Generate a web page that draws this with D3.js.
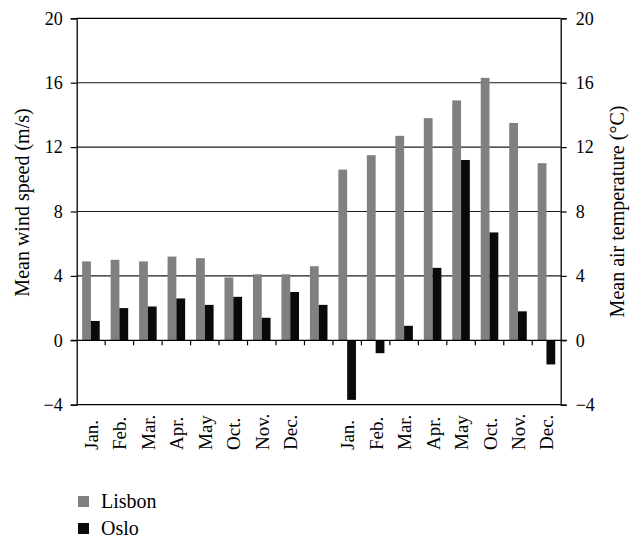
<!DOCTYPE html>
<html>
<head>
<meta charset="utf-8">
<script src="https://cdn.jsdelivr.net/npm/d3@7"></script>
<style>
  html, body { margin: 0; padding: 0; background: #fff; }
  svg { display: block; }
  svg text { font-family: "Liberation Serif", "Times New Roman", Times, serif; }
</style>
</head>
<body>
<svg id="chart" width="639" height="538"></svg>
<script>
// Wind speed group (left axis) — the last slot carries no month label
const windMonths = ["Jan.", "Feb.", "Mar.", "Apr.", "May", "Oct.", "Nov.", "Dec.", ""];
const lisbonWind = [4.9, 5.0, 4.9, 5.2, 5.1, 3.9, 4.1, 4.1, 4.6];
const osloWind   = [1.2, 2.0, 2.1, 2.6, 2.2, 2.7, 1.4, 3.0, 2.2];

// Air temperature group (right axis)
const tempMonths = ["Jan.", "Feb.", "Mar.", "Apr.", "May", "Oct.", "Nov.", "Dec."];
const lisbonTemp = [10.6, 11.5, 12.7, 13.8, 14.9, 16.3, 13.5, 11.0];
const osloTemp   = [-3.7, -0.8, 0.9, 4.5, 11.2, 6.7, 1.8, -1.5];

const yTicks = [-4, 0, 4, 8, 12, 16, 20];
const cities = ["Lisbon", "Oslo"];
const cityColors = ["#808080", "#0a0a0a"];

// Flatten both groups into one row of slots
const slots = [
  ...windMonths.map((m, i) => ({ id: "w" + i, label: m, values: [lisbonWind[i], osloWind[i]] })),
  ...tempMonths.map((m, i) => ({ id: "t" + i, label: m, values: [lisbonTemp[i], osloTemp[i]] }))
];

const svg = d3.select("#chart");
const plotL = 76.7, plotR = 560.7, plotT = 18.3, plotB = 404.7;

const x = d3.scaleBand().domain(slots.map(d => d.id)).range([plotL, plotR]).padding(0);
const xSub = d3.scaleBand().domain(cities).range([0, x.bandwidth()]).paddingInner(0).paddingOuter(0.62);
const y = d3.scaleLinear().domain([-4, 20]).range([plotB, plotT]);

const fmt = v => (v < 0 ? "\u2212" + Math.abs(v) : String(v));

// Horizontal gridlines behind the bars
svg.append("g")
  .selectAll("line")
  .data(yTicks.filter(t => t > 0 && t < 20))
  .join("line")
  .attr("x1", plotL).attr("x2", plotR)
  .attr("y1", d => y(d)).attr("y2", d => y(d))
  .attr("stroke", "#1a1a1a").attr("stroke-width", 1.1);

// Bars
const groups = svg.append("g")
  .selectAll("g")
  .data(slots)
  .join("g")
  .attr("transform", d => `translate(${x(d.id)},0)`);

groups.selectAll("rect")
  .data(d => d.values.map((v, i) => ({ city: cities[i], v, color: cityColors[i] })))
  .join("rect")
  .attr("x", d => xSub(d.city))
  .attr("width", xSub.bandwidth())
  .attr("y", d => y(Math.max(0, d.v)))
  .attr("height", d => Math.abs(y(d.v) - y(0)))
  .attr("fill", d => d.color);

// Frame: top line at 20 and bottom line at -4
svg.append("line").attr("x1", plotL).attr("x2", plotR).attr("y1", y(20)).attr("y2", y(20))
  .attr("stroke", "#000").attr("stroke-width", 1.2);
svg.append("line").attr("x1", plotL).attr("x2", plotR).attr("y1", y(-4)).attr("y2", y(-4))
  .attr("stroke", "#000").attr("stroke-width", 1.2);

// Left axis
const yAxisL = d3.axisLeft(y).tickValues(yTicks).tickFormat(fmt).tickSize(6).tickPadding(8);
const gL = svg.append("g").attr("transform", `translate(${plotL},0)`).call(yAxisL);
// Right axis
const yAxisR = d3.axisRight(y).tickValues(yTicks).tickFormat(fmt).tickSize(6).tickPadding(9);
const gR = svg.append("g").attr("transform", `translate(${plotR},0)`).call(yAxisR);

[gL, gR].forEach(g => {
  g.attr("font-family", null);
  g.select(".domain").attr("stroke", "#000").attr("stroke-width", 1.3);
  g.selectAll(".tick line").attr("stroke", "#000").attr("stroke-width", 1.2);
  g.selectAll(".tick text").attr("font-size", 18).attr("fill", "#000");
});

// Zero line with category boundary ticks
svg.append("line").attr("x1", plotL - 6).attr("x2", plotR + 6).attr("y1", y(0)).attr("y2", y(0))
  .attr("stroke", "#000").attr("stroke-width", 1.3);
svg.append("g")
  .selectAll("line")
  .data(slots.slice(1))
  .join("line")
  .attr("x1", d => x(d.id)).attr("x2", d => x(d.id))
  .attr("y1", y(0)).attr("y2", y(0) + 5)
  .attr("stroke", "#000").attr("stroke-width", 1.2);

// Month labels, rotated and bottom-aligned
svg.append("g")
  .selectAll("text")
  .data(slots.filter(d => d.label !== ""))
  .join("text")
  .attr("transform", d => `translate(${x(d.id) + x.bandwidth() / 2 + 7},450) rotate(-90)`)
  .attr("text-anchor", "start")
  .attr("font-size", 19)
  .attr("fill", "#000")
  .text(d => d.label);

// Axis titles
svg.append("text")
  .attr("transform", `translate(29,${(plotT + plotB) / 2 - 9}) rotate(-90)`)
  .attr("text-anchor", "middle").attr("font-size", 20).attr("fill", "#000")
  .text("Mean wind speed (m/s)");
svg.append("text")
  .attr("transform", `translate(624,${(plotT + plotB) / 2}) rotate(-90)`)
  .attr("text-anchor", "middle").attr("font-size", 20).attr("fill", "#000")
  .text("Mean air temperature (\u00B0C)");

// Legend
const legend = svg.append("g")
  .selectAll("g")
  .data(cities)
  .join("g")
  .attr("transform", (d, i) => `translate(78,${496 + i * 27})`);
legend.append("rect").attr("width", 11).attr("height", 11).attr("fill", (d, i) => cityColors[i]);
legend.append("text").attr("x", 23).attr("y", 12).attr("font-size", 20).attr("fill", "#000").text(d => d);
</script>
</body>
</html>
